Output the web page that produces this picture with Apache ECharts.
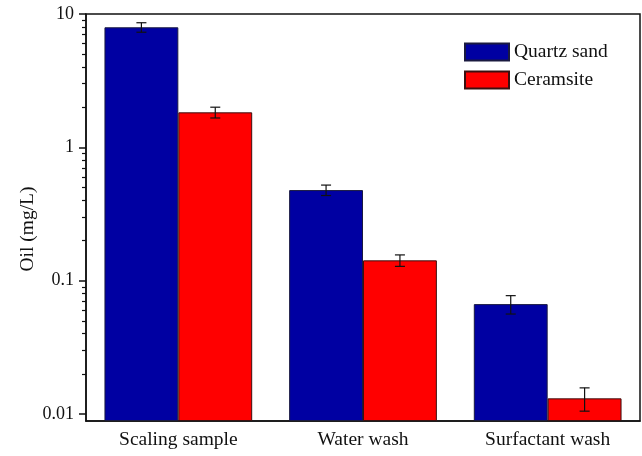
<!DOCTYPE html>
<html>
<head>
<meta charset="utf-8">
<script src="https://cdn.jsdelivr.net/npm/echarts@6/dist/echarts.min.js"></script>
<style>
  html, body { margin: 0; padding: 0; background: #fff; }
  #chart { width: 642px; height: 456px; }
</style>
</head>
<body>
<div id="chart"></div>
<script>
// Oil content after each treatment step (log scale)
const categories = ['Scaling sample', 'Water wash', 'Surfactant wash'];
const seriesNames = ['Quartz sand', 'Ceramsite'];
const quartzMean = [7.95, 0.478, 0.0667];
const quartzErr = [0.65, 0.043, 0.0105];
const ceramMean = [1.83, 0.142, 0.0131];
const ceramErr = [0.17, 0.014, 0.0026];
const yMajorTicks = [0.01, 0.1, 1, 10];
const yMajorLabels = ['0.01', '0.1', '1', '10'];
const yMinorTicks = [0.02, 0.03, 0.04, 0.05, 0.06, 0.07, 0.08, 0.09,
                     0.2, 0.3, 0.4, 0.5, 0.6, 0.7, 0.8, 0.9,
                     2, 3, 4, 5, 6, 7, 8, 9];
const yMin = 0.00886;
const yMax = 10;

const FONT = 'Liberation Serif';
const INK = '#111';
const BLUE = '#0000A2';
const RED = '#FF0000';

// error bar rows: [category index, low, high, side (-1 left bar, +1 right bar)]
const errRows = [];
categories.forEach((c, i) => {
  errRows.push([i, quartzMean[i] - quartzErr[i], quartzMean[i] + quartzErr[i], -1]);
  errRows.push([i, ceramMean[i] - ceramErr[i], ceramMean[i] + ceramErr[i], 1]);
});

const chart = echarts.init(document.getElementById('chart'), null, { renderer: 'canvas' });

chart.setOption({
  animation: false,
  backgroundColor: '#fff',
  textStyle: { fontFamily: FONT, color: INK },
  grid: {
    left: 86, top: 14, right: 2, bottom: 35,
    show: true, borderColor: INK, borderWidth: 1.5, backgroundColor: 'transparent'
  },
  legend: {
    data: seriesNames,
    orient: 'vertical',
    left: 459, top: 37,
    itemWidth: 44, itemHeight: 17, itemGap: 8,
    textStyle: { fontFamily: FONT, fontSize: 19.5, color: INK },
    icon: 'rect'
  },
  xAxis: [
    {
      type: 'category',
      data: categories,
      axisLine: { lineStyle: { color: INK, width: 1.5 } },
      axisTick: { alignWithLabel: true, length: 7, lineStyle: { color: INK, width: 1.5 } },
      axisLabel: { fontFamily: FONT, fontSize: 19.5, color: INK, margin: 9 }
    },
    {
      // short ticks between the groups
      type: 'category',
      data: categories,
      position: 'bottom',
      axisLine: { show: false },
      axisTick: { length: 4, lineStyle: { color: INK, width: 1.5 } },
      axisLabel: { show: false }
    }
  ],
  yAxis: [
    {
      type: 'log',
      logBase: 10,
      min: yMin, max: yMax,
      startValue: yMin,
      name: 'Oil (mg/L)',
      nameLocation: 'middle',
      nameGap: 48,
      nameMoveOverlap: false,
      nameTextStyle: { fontFamily: FONT, fontSize: 19.5, color: INK, padding: [0, 23, 0, 0] },
      axisLine: { show: true, lineStyle: { color: INK, width: 1.5 } },
      axisTick: { show: true, customValues: yMajorTicks, length: 7, lineStyle: { color: INK, width: 1.5 } },
      axisLabel: {
        customValues: yMajorTicks,
        fontFamily: FONT, fontSize: 18, color: INK, margin: 12,
        formatter: v => yMajorLabels[yMajorTicks.findIndex(t => Math.abs(t - v) < t * 1e-6)] ?? String(v)
      },
      splitLine: { show: false }
    },
    {
      // minor ticks at 2..9 of each decade
      type: 'log',
      logBase: 10,
      min: yMin, max: yMax,
      position: 'left',
      axisLine: { show: false },
      axisTick: { show: true, customValues: yMinorTicks, length: 4, lineStyle: { color: INK, width: 1.2 } },
      axisLabel: { show: false },
      splitLine: { show: false }
    }
  ],
  series: [
    {
      name: seriesNames[0],
      type: 'bar',
      data: quartzMean,
      barGap: '0%',
      barCategoryGap: '20%',
      itemStyle: { color: BLUE, borderColor: '#1a1a40', borderWidth: 1 }
    },
    {
      name: seriesNames[1],
      type: 'bar',
      data: ceramMean,
      barGap: '0%',
      barCategoryGap: '20%',
      itemStyle: { color: RED, borderColor: '#3a1010', borderWidth: 1 }
    },
    {
      type: 'custom',
      silent: true,
      z: 5,
      data: errRows,
      encode: { x: 0, y: [1, 2] },
      renderItem: function (params, api) {
        const cat = api.value(0);
        const lo = api.coord([cat, api.value(1)]);
        const hi = api.coord([cat, api.value(2)]);
        const band = api.coord([1, api.value(1)])[0] - api.coord([0, api.value(1)])[0];
        const barW = band * 0.8 / 2;
        const x = lo[0] + api.value(3) * barW / 2;
        const cap = 5;
        const style = { stroke: INK, lineWidth: 1.2, fill: null };
        return {
          type: 'group',
          children: [
            { type: 'line', shape: { x1: x, y1: lo[1], x2: x, y2: hi[1] }, style },
            { type: 'line', shape: { x1: x - cap, y1: lo[1], x2: x + cap, y2: lo[1] }, style },
            { type: 'line', shape: { x1: x - cap, y1: hi[1], x2: x + cap, y2: hi[1] }, style }
          ]
        };
      }
    }
  ]
});
</script>
</body>
</html>
